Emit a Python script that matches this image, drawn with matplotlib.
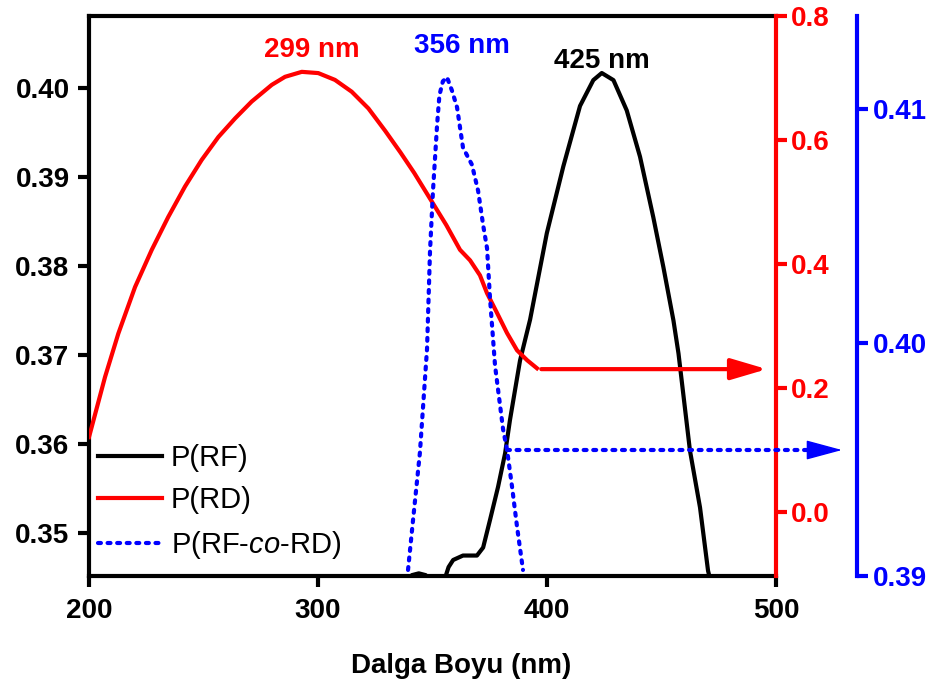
import numpy as np
import matplotlib
matplotlib.use('Agg')
import matplotlib.pyplot as plt

plt.rcParams['font.family'] = ['Liberation Sans', 'DejaVu Sans']
plt.rcParams['font.weight'] = 'bold'
plt.rcParams['mathtext.fontset'] = 'custom'
plt.rcParams['mathtext.it'] = 'Liberation Sans:italic:normal'
plt.rcParams['mathtext.rm'] = 'Liberation Sans:normal'

# P(RF) - left axis
wl_rf = [338, 341, 344, 347, 349, 355.5, 357, 359, 363.3, 369.4, 372.1, 375.1, 378.6,
         381.7, 383.8, 388.2, 392.6, 399.9, 407.1, 414.4, 420.2, 423.9, 429.0, 434.8,
         440.6, 446.4, 450.8, 455.2, 457.4, 462.4, 466.8, 470.3, 472]
rf = [0.3440, 0.3453, 0.3455, 0.3453, 0.3440, 0.3450, 0.3462, 0.3470, 0.3475, 0.3475,
      0.3484, 0.3515, 0.3552, 0.3590, 0.3627, 0.3694, 0.3740, 0.3837, 0.3912, 0.3980,
      0.4009, 0.4017, 0.4009, 0.3975, 0.3923, 0.3855, 0.3799, 0.3739, 0.3702, 0.3593,
      0.3529, 0.3458, 0.3440]

# P(RD) - red axis
wl_rd = [200, 207.0, 212.8, 220.1, 227.4, 234.6, 241.9, 249.2, 256.5, 263.8, 271.0,
         279.8, 285.6, 292.9, 300.1, 307.4, 314.7, 322.0, 329.3, 336, 342, 349, 356,
         362.0, 366.4, 370.7, 373.8, 378.2, 382.5, 386.9, 391.3, 395.6]
rd = [0.121, 0.218, 0.288, 0.363, 0.423, 0.476, 0.525, 0.568, 0.605, 0.635, 0.662,
      0.689, 0.702, 0.710, 0.708, 0.697, 0.678, 0.651, 0.615, 0.580, 0.547, 0.505,
      0.463, 0.423, 0.406, 0.382, 0.353, 0.321, 0.289, 0.261, 0.245, 0.232]
rd_arrow_x = [397.5, 483, 496]
rd_arrow_y = 0.2306

# P(RF-co-RD) - blue axis
wl_co = [339.3, 341.5, 344.5, 347.6, 348.9, 350.2, 351.1, 352.0, 353, 354.5, 356.3,
         358.5, 360.7, 363.3, 367.2, 369.9, 372.1, 373.8, 375.1, 377.3, 380.8, 382.5,
         384.7, 386.9, 389.5]
co = [0.39026, 0.39241, 0.3953, 0.39974, 0.40392, 0.40651, 0.40793, 0.40935, 0.4106,
      0.4112, 0.41138, 0.4108, 0.41009, 0.40836, 0.40763, 0.40651, 0.40504, 0.40405,
      0.4019, 0.39901, 0.39629, 0.39543, 0.39384, 0.39211, 0.39026]
co_arrow_x = [382.5, 514.8, 528.8]
co_arrow_y = 0.3954

RED = '#ff0000'
BLUE = '#0000ff'
DOTS = (0, (0.7, 1.6))

fig = plt.figure(figsize=(9.35, 6.91), dpi=100)
ax = fig.add_axes([0.0952, 0.1664, 0.7348, 0.8104])
ax2 = ax.twinx()
ax3 = ax.twinx()
ax3.spines['right'].set_position(('axes', 1.118))

for s in ['left', 'bottom', 'top']:
    ax.spines[s].set_linewidth(3)
ax.spines['right'].set_visible(False)
for s in ['left', 'bottom', 'top']:
    ax2.spines[s].set_visible(False)
    ax3.spines[s].set_visible(False)
ax2.spines['right'].set_color(RED)
ax2.spines['right'].set_linewidth(3)
ax3.spines['right'].set_color(BLUE)
ax3.spines['right'].set_linewidth(3)

l1, = ax.plot(wl_rf, rf, color='black', lw=3, label='P(RF)')
l2, = ax2.plot(wl_rd, rd, color=RED, lw=3, label='P(RD)')
l3, = ax3.plot(wl_co, co, color=BLUE, lw=3, linestyle=DOTS, dash_capstyle='round',
               label='P(RF-$\\mathit{co}$-RD)')

# arrows pointing to the matching axes
ax2.annotate('', xy=(rd_arrow_x[2], rd_arrow_y), xytext=(rd_arrow_x[0], rd_arrow_y),
             arrowprops=dict(arrowstyle='-|>,head_length=2.2,head_width=0.65',
                             color=RED, lw=3, shrinkA=0, shrinkB=0, mutation_scale=10))
ax3.plot(co_arrow_x[:2], [co_arrow_y, co_arrow_y], color=BLUE, lw=3,
         linestyle=DOTS, dash_capstyle='round', clip_on=False)
ax3.annotate('', xy=(co_arrow_x[2], co_arrow_y), xytext=(co_arrow_x[1], co_arrow_y),
             annotation_clip=False,
             arrowprops=dict(arrowstyle='-|>,head_length=2.3,head_width=0.62',
                             color=BLUE, lw=1, shrinkA=0, shrinkB=0, mutation_scale=10))

ax.set_xlim(200, 500)
ax.set_ylim(0.3452, 0.4081)
ax2.set_ylim(-0.103, 0.8)
ax3.set_ylim(0.39, 0.414)

ax.set_xticks([200, 300, 400, 500])
ax.set_yticks([0.35, 0.36, 0.37, 0.38, 0.39, 0.40])
ax.set_yticklabels(['0.35', '0.36', '0.37', '0.38', '0.39', '0.40'])
ax2.set_yticks([0.0, 0.2, 0.4, 0.6, 0.8])
ax2.set_yticklabels(['0.0', '0.2', '0.4', '0.6', '0.8'])
ax3.set_yticks([0.39, 0.40, 0.41])
ax3.set_yticklabels(['0.39', '0.40', '0.41'])

ax.tick_params(axis='both', direction='out', length=8, width=3, labelsize=20)
ax.tick_params(axis='x', pad=8)
ax.tick_params(axis='y', pad=6)
ax2.tick_params(axis='y', direction='out', length=8, width=3, labelsize=20,
                colors=RED, pad=3)
ax3.tick_params(axis='y', direction='out', length=8, width=3, labelsize=20,
                colors=BLUE, pad=3)

ax2.text(297.4, 0.745, '299 nm', color=RED, fontsize=20, ha='center', va='center')
ax3.text(362.9, 0.4127, '356 nm', color=BLUE, fontsize=20, ha='center', va='center')
ax.text(424, 0.4031, '425 nm', color='black', fontsize=20, ha='center', va='center')

fig.text(0.493, 0.036, 'Dalga Boyu (nm)', fontsize=20, ha='center', va='center')

leg = ax3.legend(handles=[l1, l2, l3], loc='upper left', bbox_to_anchor=(0.013, 0.236),
                 frameon=False, borderpad=0, borderaxespad=0, handlelength=2.2,
                 handletextpad=0.3, labelspacing=0.5,
                 prop={'size': 21, 'weight': 'normal'})

fig.savefig('out.png', dpi=100)
